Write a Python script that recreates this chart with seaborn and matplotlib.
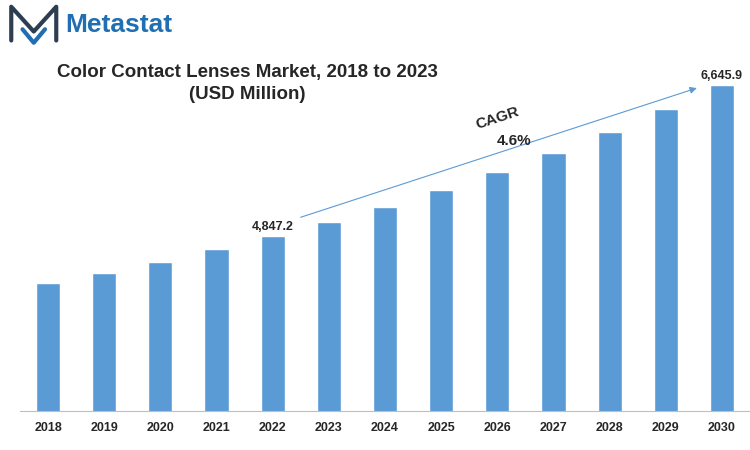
import matplotlib
matplotlib.use("Agg")
import matplotlib.pyplot as plt
import seaborn as sns
import pandas as pd

years = ["2018", "2019", "2020", "2021", "2022", "2023", "2024",
         "2025", "2026", "2027", "2028", "2029", "2030"]
values = [4288, 4407, 4538, 4692, 4847.2, 5014, 5193,
          5395, 5610, 5836, 6086, 6360, 6645.9]

sns.set_style("white")
plt.rcParams['font.family'] = ['Liberation Sans', 'DejaVu Sans']

df = pd.DataFrame({"Year": years, "Value": values})

fig = plt.figure(figsize=(7.5, 4.5), dpi=100)
ax = fig.add_axes([20 / 750, 39 / 450, 730 / 750, 351 / 450])
sns.barplot(data=df, x="Year", y="Value", color="#5b9bd5", width=0.43,
            saturation=1, ax=ax)
ax.set_ylim(2763, 6944)
ax.set_xlim(-0.5, len(years) - 0.5)
ax.set_xlabel("")
ax.set_ylabel("")
ax.set_yticks([])
for s in ["top", "right", "left"]:
    ax.spines[s].set_visible(False)
ax.spines["bottom"].set_color("#bfbfbf")
ax.tick_params(axis="x", length=0, pad=8)
for lab in ax.get_xticklabels():
    lab.set_fontsize(9)
    lab.set_fontweight("bold")

# value labels on first highlighted and last bars
ax.text(4, values[4] + 40, "4,847.2", ha="center", va="bottom",
        fontsize=9, fontweight="bold")
ax.text(12, values[12] + 40, "6,645.9", ha="center", va="bottom",
        fontsize=9, fontweight="bold")

# CAGR arrow
ax.annotate("", xy=(11.6, 6620), xytext=(4.45, 5060),
            arrowprops=dict(arrowstyle="-|>", color="#5b9bd5", lw=0.8))
ax.text(8.0, 6250, "CAGR", rotation=18, fontsize=11, fontweight="bold",
        ha="center", va="center")
ax.text(8.3, 5980, "4.6%", fontsize=11, fontweight="bold",
        ha="center", va="center")

# title
fig.text(0.33, 0.815, "Color Contact Lenses Market, 2018 to 2023\n(USD Million)",
         ha="center", va="center", fontsize=13.5, fontweight="bold",
         linespacing=1.4)

# logo
fig.text(0.087, 0.945, "Metastat", fontsize=19, fontweight="bold",
         color="#1f6fb2", va="center", ha="left")
fig.lines.append(plt.Line2D([0.015, 0.015, 0.045, 0.075, 0.075],
                            [0.91, 0.985, 0.93, 0.985, 0.91],
                            transform=fig.transFigure, color="#2d3e50", lw=3))
fig.lines.append(plt.Line2D([0.03, 0.045, 0.06],
                            [0.935, 0.905, 0.935],
                            transform=fig.transFigure, color="#1f6fb2", lw=3))

fig.savefig("out.png", dpi=100)
